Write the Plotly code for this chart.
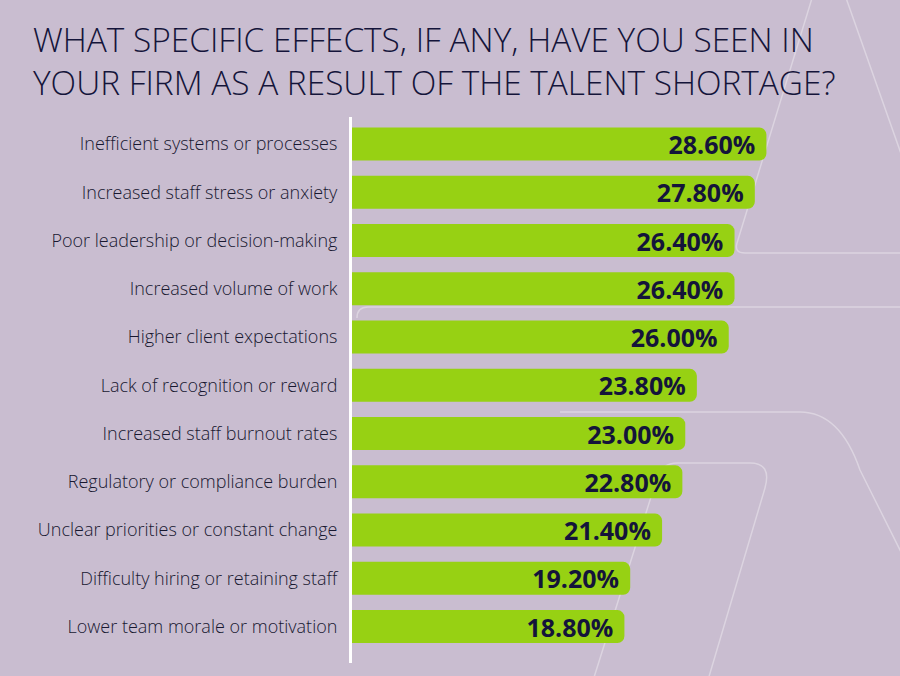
import plotly.graph_objects as go

categories = [
    "Inefficient systems or processes",
    "Increased staff stress or anxiety",
    "Poor leadership or decision-making",
    "Increased volume of work",
    "Higher client expectations",
    "Lack of recognition or reward",
    "Increased staff burnout rates",
    "Regulatory or compliance burden",
    "Unclear priorities or constant change",
    "Difficulty hiring or retaining staff",
    "Lower team morale or motivation",
]
values = [28.6, 27.8, 26.4, 26.4, 26.0, 23.8, 23.0, 22.8, 21.4, 19.2, 18.8]
title_text = "WHAT SPECIFIC EFFECTS, IF ANY, HAVE YOU SEEN IN<br>YOUR FIRM AS A RESULT OF THE TALENT SHORTAGE?"

W, H = 900, 676
ML, MR, MT, MB = 352, 0, 117, 13
BG = "#c9bdd0"
BAR = "#97d113"
INK = "#14143a"

def px2paper(x, y):
    return ((x - ML) / (W - ML - MR), 1 - (y - MT) / (H - MT - MB))

def path(points, closed=False):
    parts = []
    for i, p in enumerate(points):
        if p[0] == "Q":
            c = px2paper(*p[1]); e = px2paper(*p[2])
            parts.append(f"Q {c[0]:.4f},{c[1]:.4f} {e[0]:.4f},{e[1]:.4f}")
        else:
            q = px2paper(*p)
            parts.append(("M " if i == 0 else "L ") + f"{q[0]:.4f},{q[1]:.4f}")
    s = " ".join(parts)
    if closed:
        s += " Z"
    return s

deco = dict(color="rgba(255,255,255,0.35)", width=1.5)
shapes = [
    dict(type="path", xref="paper", yref="paper", layer="below", line=deco,
         path=path([(813, -5), (737, 243), ("Q", (734, 253), (745, 253)), (905, 253)])),
    dict(type="path", xref="paper", yref="paper", layer="below", line=deco,
         path=path([(845, -5), (905, 165)])),
    dict(type="path", xref="paper", yref="paper", layer="below", line=deco,
         path=path([(905, 307), (368, 307), ("Q", (357, 307), (357, 318))])),
    dict(type="path", xref="paper", yref="paper", layer="below", line=deco,
         path=path([(560, 412), (800, 412), ("Q", (840, 412), (860, 470)), (905, 560)])),
    dict(type="path", xref="paper", yref="paper", layer="below", line=deco,
         path=path([(590, 690), (657, 478), ("Q", (662, 463), (677, 463)), (750, 463),
                    ("Q", (772, 463), (765, 488)), (705, 690)])),
]

fig = go.Figure(go.Bar(
    x=values,
    y=categories,
    orientation="h",
    marker=dict(color=BAR, line=dict(width=0)),
    width=0.68,
    text=[f"{v:.2f}%\u2009" for v in values],
    textposition="inside",
    insidetextanchor="end",
    textangle=0,
    insidetextfont=dict(family="Open Sans", size=25, color=INK, weight="bold"),
    hoverinfo="skip",
))

tx, ty = px2paper(31, 14)
fig.add_annotation(text=title_text, xref="paper", yref="paper", x=tx, y=ty,
                   xanchor="left", yanchor="top", align="left", showarrow=False,
                   font=dict(family="Open Sans", size=33.4, color=INK, weight=300))

fig.update_layout(
    width=W, height=H,
    margin=dict(l=ML, r=MR, t=MT, b=MB),
    paper_bgcolor=BG, plot_bgcolor="rgba(0,0,0,0)",
    barcornerradius=7,
    showlegend=False,
    uniformtext=dict(minsize=25, mode="show"),
    xaxis=dict(range=[0, 37.82], showgrid=False, zeroline=False,
               showticklabels=False, showline=False, fixedrange=True),
    yaxis=dict(categoryorder="array", categoryarray=categories,
               range=[10.756, -0.56], showgrid=False, zeroline=False,
               showline=True, linecolor="white", linewidth=3,
               ticks="outside", ticklen=8, tickcolor="rgba(0,0,0,0)",
               tickfont=dict(family="Open Sans", size=18, color="#181830", weight=300)),
    shapes=shapes,
)

fig.write_html("out.html")
